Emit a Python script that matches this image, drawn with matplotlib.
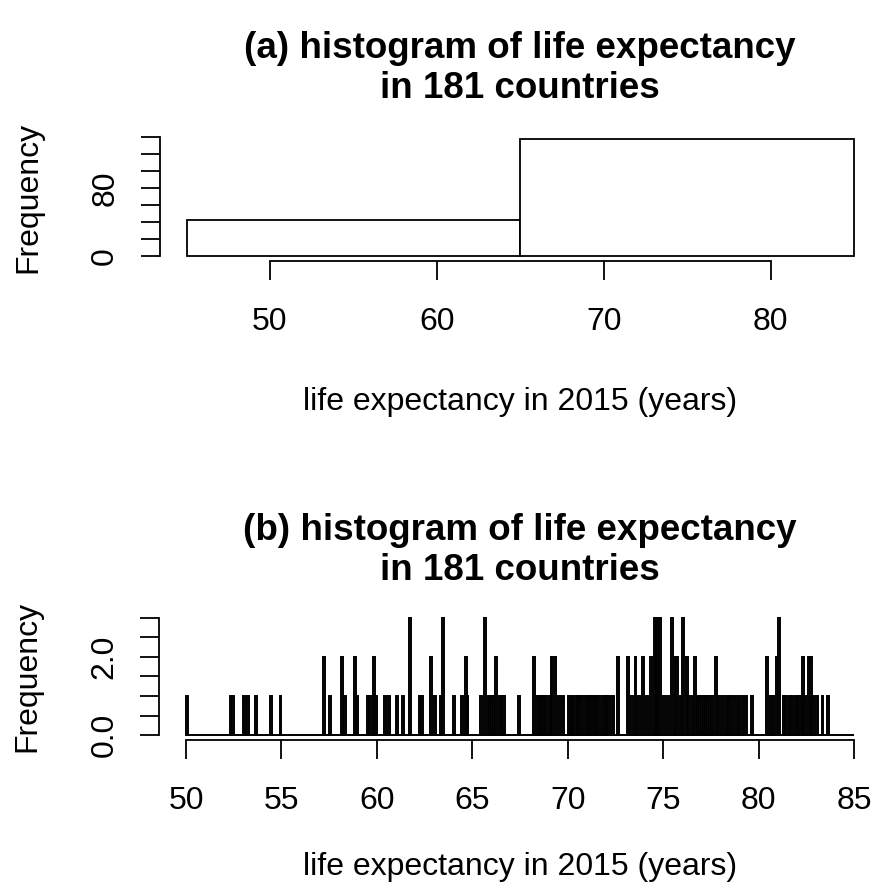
import numpy as np
import matplotlib.pyplot as plt

plt.rcParams['font.family'] = ['Liberation Sans', 'DejaVu Sans']

# life expectancy in 2015 (years), 181 countries
life_exp = [
    50.05, 52.35, 52.45, 53.05, 53.25, 53.65, 54.45, 54.95, 57.25, 57.25,
    57.55, 58.15, 58.15, 58.35, 58.85, 58.85, 58.95, 59.55, 59.65, 59.85,
    59.85, 59.95, 60.45, 60.65, 61.05, 61.35, 61.75, 61.75, 61.75, 62.25,
    62.35, 62.85, 62.85, 63.05, 63.35, 63.45, 63.45, 63.45, 64.05, 64.45,
    64.65, 64.65, 64.75,
    65.45, 65.65, 65.65, 65.65, 65.85, 65.95, 66.05, 66.15, 66.25, 66.25,
    66.45, 66.55, 66.65, 67.45,
    68.25, 68.25, 68.45, 68.55, 68.65, 68.75, 68.85, 69.05, 69.15, 69.15,
    69.35, 69.35, 69.55, 69.75,
    70.05, 70.15, 70.25, 70.45, 70.55, 70.65, 70.75, 70.95, 71.05, 71.15,
    71.25, 71.45, 71.55, 71.65, 71.85, 71.95, 72.05, 72.15, 72.35,
    72.65, 72.65, 73.15, 73.15, 73.35, 73.55, 73.55, 73.75, 73.95, 73.95,
    74.15, 74.35, 74.35,
    74.55, 74.55, 74.55, 74.65, 74.65, 74.65, 74.75, 74.75, 74.75,
    74.85, 74.85, 74.85,
    75.05, 75.25, 75.45, 75.45, 75.45, 75.65, 75.65, 75.75, 75.75, 75.95,
    76.05, 76.05, 76.05, 76.25, 76.25, 76.35, 76.55, 76.65, 76.65,
    76.85, 76.95, 77.05, 77.15, 77.25, 77.35, 77.45, 77.55,
    77.75, 77.75, 77.95, 78.15,
    78.35, 78.45, 78.55, 78.75, 78.95, 79.15, 79.35, 79.65,
    80.45, 80.45, 80.65, 80.75, 80.95, 80.95, 81.05, 81.05, 81.05,
    81.35, 81.45, 81.65, 81.75, 81.95, 82.05, 82.15,
    82.35, 82.35, 82.45, 82.65, 82.65, 82.75, 82.75, 82.85,
    83.05, 83.35, 83.65,
]

coarse_breaks = [45, 65, 85]
fine_breaks = np.linspace(50, 85, 351)

title_1 = '(a) histogram of life expectancy'
title_2 = '(b) histogram of life expectancy'
subtitle = 'in 181 countries'
xlab = 'life expectancy in 2015 (years)'

W, H = 872, 890
fig = plt.figure(figsize=(W / 100, H / 100), dpi=100)


def add_axes_px(x0, x1, y0, y1):
    # box given in pixels, origin at the top left
    return fig.add_axes([x0 / W, 1 - y1 / H, (x1 - x0) / W, (y1 - y0) / H])


def r_style(ax, xticks, yticks, ylabels):
    for s in ['top', 'right']:
        ax.spines[s].set_visible(False)
    for s in ['left', 'bottom']:
        ax.spines[s].set_linewidth(1.3)
    ax.spines['left'].set_bounds(yticks[0], yticks[-1])
    ax.spines['bottom'].set_bounds(xticks[0], xticks[-1])
    ax.set_xticks(xticks)
    ax.set_xticklabels([str(t) for t in xticks])
    ax.set_yticks(yticks)
    ax.set_yticklabels(ylabels, rotation=90, va='center')
    ax.tick_params(axis='both', length=13.7, width=1.3, labelsize=23)
    ax.tick_params(axis='x', pad=19.5)
    ax.tick_params(axis='y', pad=14.8)
    ax.patch.set_alpha(0)


# (a) two wide bins
ax1 = add_axes_px(159.8, 880.7, 134, 261)
ax1.hist(life_exp, bins=coarse_breaks, facecolor='white', edgecolor='black', linewidth=1.3)
ax1.set_xlim(43.4, 86.6)
ax1.set_ylim(-5.52, 143.52)
r_style(ax1, [50, 60, 70, 80], list(range(0, 141, 20)),
        ['0', '', '', '', '80', '', '', ''])
ax1.set_xlabel(xlab, fontsize=23, va='center')
ax1.xaxis.set_label_coords(0.5, -1.11)
ax1.set_ylabel('Frequency', fontsize=23, va='center')
ax1.yaxis.set_label_coords(-0.1824, 0.5)
fig.text(520 / W, 1 - 48 / H, title_1, ha='center', va='center', fontsize=26.5, fontweight='bold')
fig.text(520 / W, 1 - 88 / H, subtitle, ha='center', va='center', fontsize=26.5, fontweight='bold')

# (b) bins of 0.1 years
ax2 = add_axes_px(159.3, 880.7, 612.9, 740)
ax2.hist(life_exp, bins=fine_breaks, facecolor='white', edgecolor='black', linewidth=1.4)
ax2.set_xlim(48.6, 86.4)
ax2.set_ylim(-0.12, 3.12)
r_style(ax2, [50, 55, 60, 65, 70, 75, 80, 85], [0, 0.5, 1, 1.5, 2, 2.5, 3],
        ['0.0', '', '', '', '2.0', '', ''])
ax2.set_xlabel(xlab, fontsize=23, va='center')
ax2.xaxis.set_label_coords(0.5, -1.0)
ax2.set_ylabel('Frequency', fontsize=23, va='center')
ax2.yaxis.set_label_coords(-0.1824, 0.5)
fig.text(520 / W, 1 - 531 / H, title_2, ha='center', va='center', fontsize=26.5, fontweight='bold')
fig.text(520 / W, 1 - 571 / H, subtitle, ha='center', va='center', fontsize=26.5, fontweight='bold')

fig.savefig('out.png', dpi=100)
